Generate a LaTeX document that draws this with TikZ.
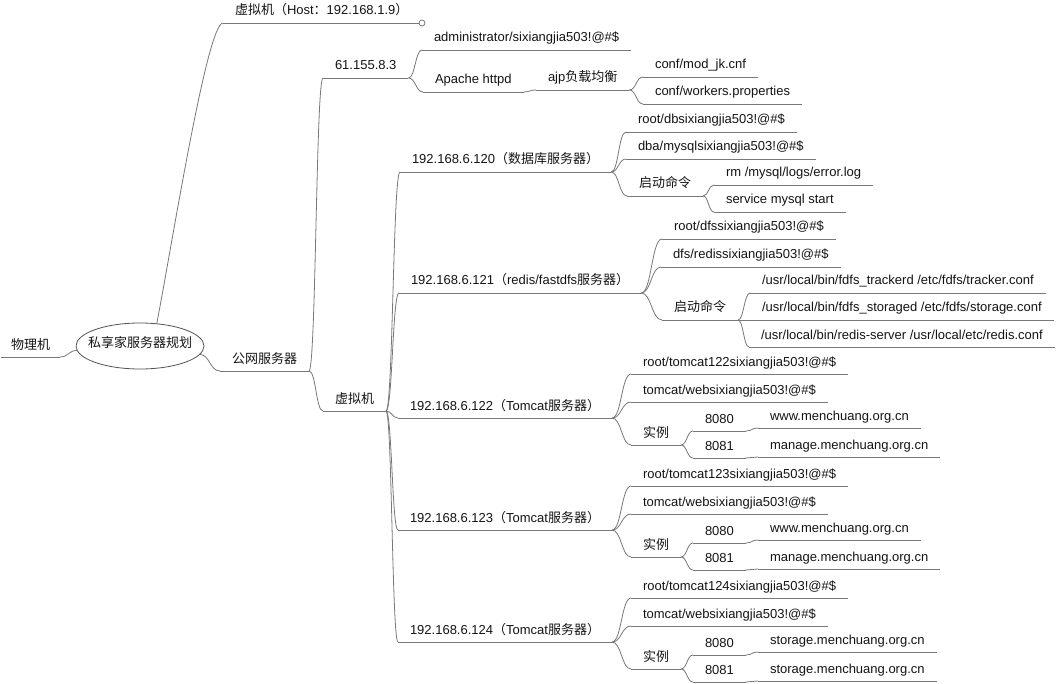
\documentclass[tikz,border=0pt]{standalone}
\usepackage{fontspec}
\setmainfont{Liberation Sans}
\newfontfamily\cjkfont{Noto Sans CJK SC}
\newcommand{\zh}[1]{{\cjkfont #1}}
\usetikzlibrary{calc,shapes.geometric}
\definecolor{lncol}{RGB}{120,120,120}
\definecolor{txtcol}{RGB}{20,20,20}
\tikzset{
  topic/.style={anchor=south west, inner xsep=12pt, inner ysep=0pt, outer sep=0pt,
    text height=10pt, text depth=8pt, font=\fontsize{13pt}{15pt}\selectfont, text=txtcol},
  ln/.style={draw=lncol, line width=0.8pt},
  bez/.style={to path={let \p1=(\tikztostart), \p2=(\tikztotarget) in
      .. controls ({(\x1+\x2)/2},\y1) and ({(\x1+\x2)/2},\y2) .. (\tikztotarget)}},
  rootnode/.style={ellipse, draw=lncol!70!black, line width=0.8pt, minimum width=128pt,
    minimum height=46pt, inner sep=0pt, outer sep=0pt, text height=4pt, text depth=0pt,
    font=\fontsize{13pt}{15pt}\selectfont, text=txtcol},
  foldmark/.style={circle, draw=lncol, line width=0.8pt, fill=white, minimum size=6pt, inner sep=0pt}
}
\begin{document}
\begin{tikzpicture}[x=1pt,y=-1pt]
\path[fill=white, use as bounding box] (0,0) rectangle (1062,684);
% root
\node[rootnode] (root) at (140,346) {\makebox[0pt]{\zh{私享家服务器规划}}};
\node[topic, anchor=south east, inner xsep=10pt] (wlj) at (60,357) {\zh{物理机}};
\node[topic] (host) at (223,23) {\zh{虚拟机（}Host\zh{：}192.168.1.9\zh{）}};
\node[foldmark] (hostc) at (422,23) {};
\node[topic] (gw) at (220,371) {\zh{公网服务器}};
% public server
\node[topic] (ip61) at (323,78) {61.155.8.3};
\node[topic] (vm) at (323,411) {\zh{虚拟机}};
\node[topic] (admin) at (422,50) {administrator/sixiangjia503!@\#\$};
\node[topic] (apache) at (423,92) {Apache httpd};
\node[topic] (ajp) at (536,90) {ajp\zh{负载均衡}};
\node[topic] (conf1) at (643,77) {conf/mod\_jk.cnf};
\node[topic] (conf2) at (643,104) {conf/workers.properties};
% 120
\node[topic] (s120) at (400,172) {192.168.6.120\zh{（数据库服务器）}};
\node[topic] (db1) at (626,132) {root/dbsixiangjia503!@\#\$};
\node[topic] (db2) at (626,159) {dba/mysqlsixiangjia503!@\#\$};
\node[topic] (dbc) at (627,196) {\zh{启动命令}};
\node[topic] (rm) at (714,185) {rm /mysql/logs/error.log};
\node[topic] (svc) at (714,212) {service mysql start};
% 121
\node[topic] (s121) at (399,293) {192.168.6.121\zh{（}redis/fastdfs\zh{服务器）}};
\node[topic] (r1) at (662,239) {root/dfssixiangjia503!@\#\$};
\node[topic] (r2) at (661,267) {dfs/redissixiangjia503!@\#\$};
\node[topic] (rc) at (662,320) {\zh{启动命令}};
\node[topic] (f1) at (750,293) {/usr/local/bin/fdfs\_trackerd /etc/fdfs/tracker.conf};
\node[topic] (f2) at (750,320) {/usr/local/bin/fdfs\_storaged /etc/fdfs/storage.conf};
\node[topic] (f3) at (749,347) {/usr/local/bin/redis-server /usr/local/etc/redis.conf};
% underlines
\foreach \n in {wlj,gw,ip61,vm,admin,apache,ajp,conf1,conf2,s120,db1,db2,dbc,rm,svc,s121,r1,r2,rc,f1,f2,f3}
  \draw[ln] (\n.south west) -- (\n.south east);
\draw[ln] (host.south west) -- (hostc.west);
% connectors
\draw[ln] (root.184) to[bez] (wlj.south east);
\draw[ln] (root.53) .. controls (172,245) and (207,23) .. (host.south west);
\draw[ln] (root.-8) to[bez] (gw.south west);
\foreach \a/\b in {gw/ip61,gw/vm,ip61/admin,ip61/apache,apache/ajp,ajp/conf1,ajp/conf2,
  vm/s120,vm/s121,s120/db1,s120/db2,s120/dbc,dbc/rm,dbc/svc,s121/r1,s121/r2,s121/rc,rc/f1,rc/f2,rc/f3}
  \draw[ln] (\a.south east) to[bez] (\b.south west);
% tomcat servers
\foreach \q/\dy/\nn/\wa/\wb in {a/0/122/www/manage, b/112/123/www/manage, c/224/124/storage/storage}{
  \node[topic] (s\q) at (398,{418+\dy}) {192.168.6.\nn\zh{（}Tomcat\zh{服务器）}};
  \node[topic] (t1\q) at (631,{374+\dy}) {root/tomcat\nn sixiangjia503!@\#\$};
  \node[topic] (t2\q) at (631,{402+\dy}) {tomcat/websixiangjia503!@\#\$};
  \node[topic] (i\q) at (631,{445+\dy}) {\zh{实例}};
  \node[topic] (pa\q) at (693,{431+\dy}) {8080};
  \node[topic] (wa\q) at (758,{428+\dy}) {\wa.menchuang.org.cn};
  \node[topic] (pb\q) at (693,{458+\dy}) {8081};
  \node[topic] (wb\q) at (758,{457+\dy}) {\wb.menchuang.org.cn};
  \foreach \n in {s\q,t1\q,t2\q,i\q,pa\q,wa\q,pb\q,wb\q}
    \draw[ln] (\n.south west) -- (\n.south east);
  \draw[ln] (vm.south east) to[bez] (s\q.south west);
  \draw[ln] (s\q.south east) to[bez] (t1\q.south west);
  \draw[ln] (s\q.south east) to[bez] (t2\q.south west);
  \draw[ln] (s\q.south east) to[bez] (i\q.south west);
  \draw[ln] (i\q.south east) to[bez] (pa\q.south west);
  \draw[ln] (i\q.south east) to[bez] (pb\q.south west);
  \draw[ln] (pa\q.south east) to[bez] (wa\q.south west);
  \draw[ln] (pb\q.south east) to[bez] (wb\q.south west);
}
\end{tikzpicture}
\end{document}
